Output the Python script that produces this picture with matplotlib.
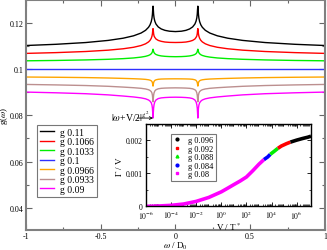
import matplotlib
matplotlib.use("Agg")
import matplotlib.pyplot as plt
from matplotlib.ticker import MultipleLocator, FormatStrFormatter, LogLocator, NullFormatter

plt.rcParams['font.family'] = ['Liberation Serif', 'DejaVu Serif']
plt.rcParams['mathtext.fontset'] = 'stix'

# main panel: g(omega), cusps at omega = +-V/2
omega = [-1, -0.8, -0.6, -0.45, -0.35, -0.28, -0.23, -0.2, -0.18, -0.17, -0.162, -0.157, -0.154, -0.152,
         -0.15, -0.148, -0.146, -0.143, -0.138, -0.13, -0.115, -0.095, -0.07, -0.04, 0,
         0.04, 0.07, 0.095, 0.115, 0.13, 0.138, 0.143, 0.146, 0.148, 0.15, 0.152, 0.154, 0.157,
         0.162, 0.17, 0.18, 0.2, 0.23, 0.28, 0.35, 0.45, 0.6, 0.8, 1]

g_0110 = [0.1101, 0.11062, 0.11138, 0.11230, 0.11325, 0.11429, 0.11548, 0.11665, 0.11796, 0.11901,
          0.12038, 0.12189, 0.12352, 0.12565, 0.12707, 0.12569, 0.12359, 0.12202, 0.12059, 0.11934,
          0.11811, 0.11724, 0.11664, 0.11627, 0.11611,
          0.11627, 0.11664, 0.11724, 0.11811, 0.11934, 0.12059, 0.12202, 0.12359, 0.12569, 0.12707,
          0.12565, 0.12352, 0.12189, 0.12038, 0.11901, 0.11796, 0.11665, 0.11548, 0.11429, 0.11325,
          0.11230, 0.11138, 0.11062, 0.1101]
g_1066 = [0.10670, 0.10703, 0.10751, 0.10809, 0.10869, 0.10934, 0.11009, 0.11083, 0.11165, 0.11231,
          0.11318, 0.11413, 0.11516, 0.11650, 0.11739, 0.11653, 0.11520, 0.11421, 0.11360, 0.11290,
          0.11230, 0.11190, 0.11160, 0.11145, 0.11140,
          0.11145, 0.11160, 0.11190, 0.11230, 0.11290, 0.11360, 0.11421, 0.11520, 0.11653, 0.11739,
          0.11650, 0.11516, 0.11413, 0.11318, 0.11231, 0.11165, 0.11083, 0.11009, 0.10934, 0.10869,
          0.10809, 0.10751, 0.10703, 0.10670]
g_1033 = [0.10350, 0.10365, 0.10388, 0.10415, 0.10443, 0.10473, 0.10509, 0.10543, 0.10581, 0.10612,
          0.10653, 0.10697, 0.10745, 0.10808, 0.10850, 0.10809, 0.10747, 0.10701, 0.10659, 0.10622,
          0.10586, 0.10560, 0.10543, 0.10532, 0.10527,
          0.10532, 0.10543, 0.10560, 0.10586, 0.10622, 0.10659, 0.10701, 0.10747, 0.10809, 0.10850,
          0.10808, 0.10745, 0.10697, 0.10653, 0.10612, 0.10581, 0.10543, 0.10509, 0.10473, 0.10443,
          0.10415, 0.10388, 0.10365, 0.10350]
omega_flat = [-1, 1]
g_0100 = [0.1, 0.1]
g_0966 = [0.09650, 0.09640, 0.09626, 0.09608, 0.09591, 0.09577, 0.09563, 0.09549, 0.09531, 0.09514,
          0.09489, 0.09454, 0.09405, 0.09335, 0.09258, 0.09335, 0.09409, 0.09461, 0.09503, 0.09531,
          0.09552, 0.09563, 0.09568, 0.09571, 0.09573,
          0.09571, 0.09568, 0.09563, 0.09552, 0.09531, 0.09503, 0.09461, 0.09409, 0.09335, 0.09258,
          0.09335, 0.09405, 0.09454, 0.09489, 0.09514, 0.09531, 0.09549, 0.09563, 0.09577, 0.09591,
          0.09608, 0.09626, 0.09640, 0.09650]
g_0933 = [0.09330, 0.09310, 0.09283, 0.09250, 0.09216, 0.09189, 0.09163, 0.09136, 0.09102, 0.09069,
          0.09022, 0.08955, 0.08861, 0.08727, 0.08580, 0.08727, 0.08868, 0.08968, 0.09049, 0.09102,
          0.09142, 0.09163, 0.09173, 0.09179, 0.09183,
          0.09179, 0.09173, 0.09163, 0.09142, 0.09102, 0.09049, 0.08968, 0.08868, 0.08727, 0.08580,
          0.08727, 0.08861, 0.08955, 0.09022, 0.09069, 0.09102, 0.09136, 0.09163, 0.09189, 0.09216,
          0.09250, 0.09283, 0.09310, 0.09330]
g_0090 = [0.0900, 0.0897, 0.0893, 0.0888, 0.0883, 0.0879, 0.0875, 0.0871, 0.0866, 0.0861,
          0.0854, 0.0844, 0.0830, 0.0810, 0.0788, 0.0810, 0.0831, 0.0846, 0.0858, 0.0866,
          0.0872, 0.0875, 0.08765, 0.08775, 0.0878,
          0.08775, 0.08765, 0.0875, 0.0872, 0.0866, 0.0858, 0.0846, 0.0831, 0.0810, 0.0788,
          0.0810, 0.0830, 0.0844, 0.0854, 0.0861, 0.0866, 0.0871, 0.0875, 0.0879, 0.0883,
          0.0888, 0.0893, 0.0897, 0.0900]

main_labels = ['g 0.11', 'g 0.1066', 'g 0.1033', 'g 0.1', 'g 0.0966', 'g 0.0933', 'g 0.09']
main_colors = ['black', 'red', '#00ee00', '#3030ff', 'orange', '#bc8f8f', 'magenta']

# inset: Gamma/V vs V/T*
vt_080 = [1e-6, 1e-5, 1e-4, 1e-3, 1e-2, 1e-1, 1, 3.2, 10, 32, 100, 320, 1000, 2500]
gv_080 = [0, 0.00001, 0.00003, 0.00007, 0.00015, 0.00027, 0.00044, 0.00055, 0.00066, 0.00077,
          0.00089, 0.00108, 0.00128, 0.00142]
vt_084 = [2500, 5000, 8000]
gv_084 = [0.00142, 0.00150, 0.00158]
vt_088 = [8000, 15000, 32000]
gv_088 = [0.00158, 0.00166, 0.00176]
vt_092 = [32000, 60000, 1.5e5, 3.2e5]
gv_092 = [0.00176, 0.00183, 0.00190, 0.00195]
vt_096 = [3.2e5, 1e6, 3e6, 8e6, 1.4e7]
gv_096 = [0.00195, 0.00201, 0.00206, 0.00210, 0.00213]

fig = plt.figure(figsize=(3.27, 2.51), dpi=100)
ax = fig.add_axes([0.0795, 0.0797, 0.914, 0.916])

series = [g_0110, g_1066, g_1033, None, g_0966, g_0933, g_0090]
for ys, lab, c in zip(series, main_labels, main_colors):
    if ys is None:
        ax.plot(omega_flat, g_0100, color=c, lw=1.0, label=lab)
    else:
        ax.plot(omega, ys, color=c, lw=1.0, label=lab)

ax.set_xlim(-1, 1)
ax.set_ylim(0.0305, 0.1297)
ax.xaxis.set_major_locator(MultipleLocator(0.5))
ax.xaxis.set_minor_locator(MultipleLocator(0.25))
ax.yaxis.set_major_locator(MultipleLocator(0.02))
ax.yaxis.set_minor_locator(MultipleLocator(0.01))
ax.xaxis.set_major_formatter(FormatStrFormatter('%g'))
ax.yaxis.set_major_formatter(FormatStrFormatter('%g'))
ax.tick_params(which='both', direction='in', top=True, right=True, labelsize=5.8, color='#666666')
ax.tick_params(axis='x', pad=1.5)
ax.tick_params(axis='y', pad=2)
ax.tick_params(which='major', length=4, width=0.8)
ax.tick_params(which='minor', length=2, width=0.8)
for s in ax.spines.values():
    s.set_color('#808080')
    s.set_linewidth(1.5)
ax.set_xlabel(r'$\omega$ / D$_0$', fontsize=6.5, labelpad=0)
ax.set_ylabel(r'g($\omega$)', fontsize=6.5)
ax.yaxis.set_label_coords(-0.052, 0.5)

leg = ax.legend(loc='lower left', bbox_to_anchor=(0.038, 0.145), fontsize=7, frameon=True,
                fancybox=False, edgecolor='#555555', labelspacing=0.05, handlelength=1.4,
                handletextpad=0.6, borderpad=0.3, borderaxespad=0)
leg.get_frame().set_linewidth(0.8)

ax.text(omega[14] - 0.28, g_0090[14] - 0.0012, r'$|\omega$+V/2$|^{g^2}$', fontsize=7)
ax.annotate('', xy=(omega[14], g_0090[14]), xytext=(omega[14] - 0.105, g_0090[14]),
            arrowprops=dict(arrowstyle='->', lw=0.6, color='black', shrinkA=0, shrinkB=0,
                            mutation_scale=5))

# inset
ins = fig.add_axes([0.4465, 0.174, 0.5046, 0.328])
ins.plot(vt_080, gv_080, color='magenta', lw=2.6, solid_capstyle='butt')
ins.plot(vt_084, gv_084, color='blue', lw=2.6, solid_capstyle='butt')
ins.plot(vt_088, gv_088, color='#00ee00', lw=2.6, solid_capstyle='butt')
ins.plot(vt_092, gv_092, color='red', lw=2.6, solid_capstyle='butt')
ins.plot(vt_096, gv_096, color='black', lw=2.6, solid_capstyle='butt')
ins.set_xscale('log')
ins.set_xlim(1e-6, 1.4e7)
ins.set_ylim(0, 0.0025)
ins.set_xticks([1e-6, 1e-4, 1e-2, 1, 1e2, 1e4, 1e6])
ins.set_xticklabels([r'$10^{-6}$', r'$10^{-4}$', r'$10^{-2}$', r'$10^{0}$', r'$10^{2}$',
                     r'$10^{4}$', r'$10^{6}$'])
ins.xaxis.set_minor_locator(LogLocator(base=10, subs=[2, 3, 4, 5, 6, 7, 8, 9], numticks=30))
ins.xaxis.set_minor_formatter(NullFormatter())
ins.yaxis.set_major_locator(MultipleLocator(0.001))
ins.yaxis.set_minor_locator(MultipleLocator(0.0005))
ins.yaxis.set_major_formatter(FormatStrFormatter('%g'))
ins.tick_params(which='both', direction='in', top=True, right=True, labelsize=5.5)
ins.tick_params(axis='x', pad=1.5)
ins.tick_params(axis='y', pad=2.5)
ins.tick_params(which='major', length=3, width=0.6)
ins.tick_params(which='minor', length=1.5, width=0.5)
for s in ins.spines.values():
    s.set_linewidth(1.0)
ins.set_xlabel(r'V / T$^*$', fontsize=6.5, labelpad=0)
ins.set_ylabel(r'$\Gamma$ / V', fontsize=6.5, labelpad=1)

inset_labels = ['g 0.096', 'g 0.092', 'g 0.088', 'g 0.084', 'g 0.08']
inset_colors = ['black', 'red', '#00ee00', 'blue', 'magenta']
inset_markers = ['o', 's', '^', 'o', 's']
handles = [ins.plot([], [], ls='none', marker=m, ms=2, color=c)[0]
           for m, c in zip(inset_markers, inset_colors)]
ileg = ins.legend(handles, inset_labels, loc='upper left', bbox_to_anchor=(0.15, 0.88),
                  fontsize=6, frameon=True, fancybox=False, edgecolor='#555555',
                  labelspacing=0.05, handlelength=1.0, handletextpad=0.8, borderpad=0.3,
                  borderaxespad=0)
ileg.get_frame().set_linewidth(0.8)

fig.savefig('out.png', dpi=100)
